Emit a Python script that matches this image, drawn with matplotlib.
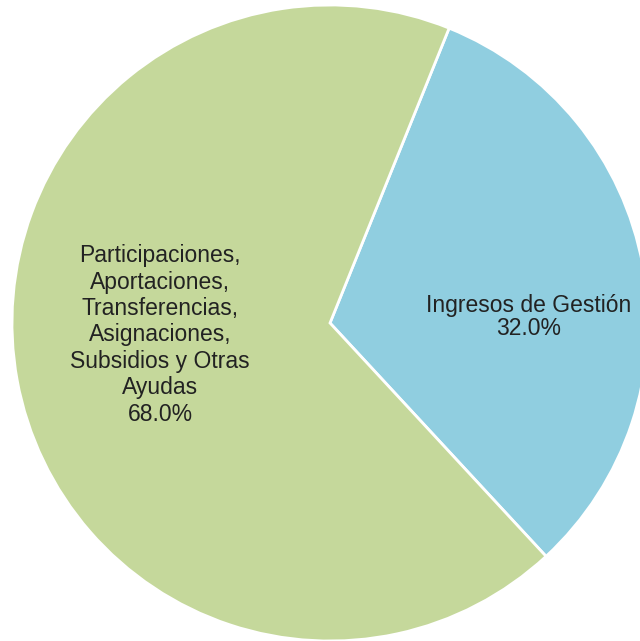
import matplotlib.pyplot as plt

labels = ['Ingresos de Gestión',
          'Participaciones,\nAportaciones,\nTransferencias,\nAsignaciones,\nSubsidios y Otras\nAyudas']
values = [32.0, 68.0]
colors = ['#90CEE0', '#C5D89B']

plt.rcParams['font.family'] = ['Liberation Sans', 'DejaVu Sans']

fig = plt.figure(figsize=(6.40, 6.41), dpi=100)
ax = fig.add_axes([0, 0, 1, 1])
ax.set_aspect('equal')
ax.axis('off')

wedges, _ = ax.pie(values, colors=colors, startangle=68, counterclock=False,
                   center=(330, 318), radius=318,
                   wedgeprops=dict(edgecolor='white', linewidth=2))
ax.set_xlim(0, 640)
ax.set_ylim(0, 641)

# label positions (pixels from bottom-left) and line spacing
pos = [(529, 324), (160, 306)]
spacing = [1.05, 1.19]
for lab, v, (x, y), ls in zip(labels, values, pos, spacing):
    ax.text(x, y, lab + '\n' + f'{v:.1f}%', ha='center', va='center',
            fontsize=16.5, color='#222222', linespacing=ls)

fig.savefig('out.png', dpi=100)
